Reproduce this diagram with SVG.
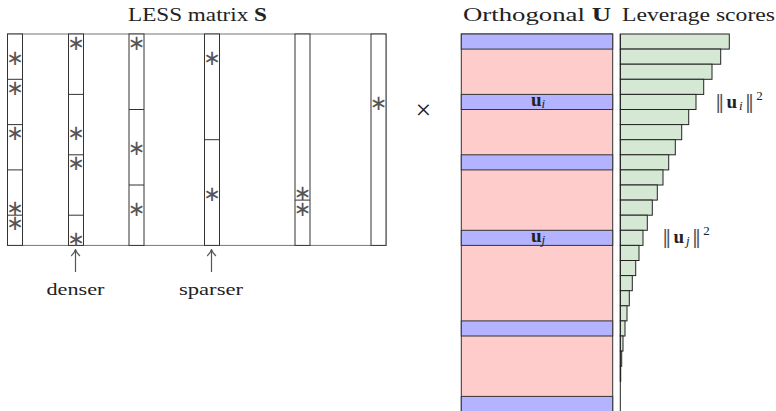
<svg xmlns="http://www.w3.org/2000/svg" width="776" height="411" viewBox="0 0 776 411">
<style>
text{font-family:"Liberation Serif","Times New Roman",serif;fill:#222}
.ttl{font-size:19px}
.ast{font-family:"DejaVu Sans",sans-serif;font-size:21px;text-anchor:middle;fill:#555}
.col{fill:#fff;stroke:#333;stroke-width:1}
.div{stroke:#333;stroke-width:1}
.blue{fill:#b3b3ff;stroke:#333;stroke-width:1}
.pink{fill:#ffcccc;stroke:#333;stroke-width:1}
.bar{fill:#d5e8d4;stroke:#222;stroke-width:1}
.lbl{font-size:19px}
.nrm{font-family:"DejaVu Serif",serif;font-weight:normal}
.arr{stroke:#555;stroke-width:1.2;fill:none}
</style>
<defs>
<marker id="ah" viewBox="0 0 10 10" refX="9" refY="5" markerWidth="10" markerHeight="10" markerUnits="userSpaceOnUse" orient="auto">
<path d="M3,0.5 Q6,4 9.5,5 Q6,6 3,9.5" fill="none" stroke="#555" stroke-width="1.1"/>
</marker>
</defs>
<rect width="776" height="411" fill="#fff"/>

<g id="titles">
<text class="ttl" x="128" y="21" textLength="139" lengthAdjust="spacingAndGlyphs">LESS matrix <tspan font-weight="bold">S</tspan></text>
<text class="ttl" x="463" y="21" textLength="148" lengthAdjust="spacingAndGlyphs">Orthogonal <tspan font-weight="bold">U</tspan></text>
<text class="ttl" x="622" y="21" textLength="153" lengthAdjust="spacingAndGlyphs">Leverage scores</text>
</g>

<g id="matrix-S">
<rect x="7.5" y="34" width="378.5" height="211.4" fill="none" stroke="#777" stroke-width="1"/>
<g id="col1">
<rect class="col" x="7.5" y="34" width="15" height="211.4"/>
<line class="div" x1="7.5" y1="79.3" x2="22.5" y2="79.3"/>
<line class="div" x1="7.5" y1="124.6" x2="22.5" y2="124.6"/>
<line class="div" x1="7.5" y1="169.9" x2="22.5" y2="169.9"/>
<line class="div" x1="7.5" y1="215.2" x2="22.5" y2="215.2"/>
<text class="ast" x="15" y="64.5">∗</text>
<text class="ast" x="15" y="94.5">∗</text>
<text class="ast" x="15" y="139.5">∗</text>
<text class="ast" x="15" y="215">∗</text>
<text class="ast" x="15" y="230">∗</text>
</g>
<g id="col2">
<rect class="col" x="68.5" y="34" width="15" height="211.4"/>
<line class="div" x1="68.5" y1="94.4" x2="83.5" y2="94.4"/>
<line class="div" x1="68.5" y1="154.8" x2="83.5" y2="154.8"/>
<line class="div" x1="68.5" y1="215.2" x2="83.5" y2="215.2"/>
<text class="ast" x="76" y="49.5">∗</text>
<text class="ast" x="76" y="139.5">∗</text>
<text class="ast" x="76" y="170">∗</text>
<text class="ast" x="76" y="245.5">∗</text>
</g>
<g id="col3">
<rect class="col" x="129" y="34" width="15" height="211.4"/>
<line class="div" x1="129" y1="109.5" x2="144" y2="109.5"/>
<line class="div" x1="129" y1="185" x2="144" y2="185"/>
<text class="ast" x="136.5" y="49.5">∗</text>
<text class="ast" x="136.5" y="155">∗</text>
<text class="ast" x="136.5" y="215.5">∗</text>
</g>
<g id="col4">
<rect class="col" x="204.5" y="34" width="15" height="211.4"/>
<line class="div" x1="204.5" y1="139.7" x2="219.5" y2="139.7"/>
<text class="ast" x="212" y="64.5">∗</text>
<text class="ast" x="212" y="200.5">∗</text>
</g>
<g id="col5">
<rect class="col" x="295" y="34" width="15" height="211.4"/>
<line class="div" x1="295" y1="200.1" x2="310" y2="200.1"/>
<text class="ast" x="302.5" y="200">∗</text>
<text class="ast" x="302.5" y="215.5">∗</text>
</g>
<g id="col6">
<rect class="col" x="371" y="34" width="15" height="211.4"/>
<text class="ast" x="378.5" y="109.5">∗</text>
</g>
</g>

<g id="times">
<text x="423.5" y="119" font-size="28" text-anchor="middle" fill="#444">×</text>
</g>

<g id="matrix-U">
<rect class="pink" x="461.3" y="34" width="151.4" height="378"/>
<rect class="blue" x="461.3" y="34" width="151.4" height="15.1"/>
<rect class="blue" x="461.3" y="94.4" width="151.4" height="15.1"/>
<rect class="blue" x="461.3" y="154.8" width="151.4" height="15.1"/>
<rect class="blue" x="461.3" y="230.3" width="151.4" height="15.1"/>
<rect class="blue" x="461.3" y="320.9" width="151.4" height="15.1"/>
<rect class="blue" x="461.3" y="396.4" width="151.4" height="15.1"/>
<text class="lbl" x="538" y="106" text-anchor="middle"><tspan font-weight="bold">u</tspan><tspan font-style="italic" font-size="13" dy="2">i</tspan></text>
<text class="lbl" x="538" y="241.5" text-anchor="middle"><tspan font-weight="bold">u</tspan><tspan font-style="italic" font-size="13" dy="2">j</tspan></text>
</g>

<g id="leverage">
<rect class="bar" x="620.3" y="34" width="109" height="15.1"/>
<rect class="bar" x="620.3" y="49.1" width="100.4" height="15.1"/>
<rect class="bar" x="620.3" y="64.2" width="91.7" height="15.1"/>
<rect class="bar" x="620.3" y="79.3" width="83.4" height="15.1"/>
<rect class="bar" x="620.3" y="94.4" width="75.7" height="15.1"/>
<rect class="bar" x="620.3" y="109.5" width="68.4" height="15.1"/>
<rect class="bar" x="620.3" y="124.6" width="61.4" height="15.1"/>
<rect class="bar" x="620.3" y="139.7" width="55" height="15.1"/>
<rect class="bar" x="620.3" y="154.8" width="48.4" height="15.1"/>
<rect class="bar" x="620.3" y="169.9" width="42.7" height="15.1"/>
<rect class="bar" x="620.3" y="185" width="37" height="15.1"/>
<rect class="bar" x="620.3" y="200.1" width="32" height="15.1"/>
<rect class="bar" x="620.3" y="215.2" width="27" height="15.1"/>
<rect class="bar" x="620.3" y="230.3" width="22.7" height="15.1"/>
<rect class="bar" x="620.3" y="245.4" width="18.7" height="15.1"/>
<rect class="bar" x="620.3" y="260.5" width="15.4" height="15.1"/>
<rect class="bar" x="620.3" y="275.6" width="12" height="15.1"/>
<rect class="bar" x="620.3" y="290.7" width="9" height="15.1"/>
<rect class="bar" x="620.3" y="305.8" width="6.7" height="15.1"/>
<rect class="bar" x="620.3" y="320.9" width="4.7" height="15.1"/>
<rect class="bar" x="620.3" y="336" width="2.7" height="15.1"/>
<rect class="bar" x="620.3" y="351.1" width="1.4" height="15.1"/>
<rect class="bar" x="620.3" y="366.2" width="0.4" height="15.1"/>
<line x1="620.3" y1="34" x2="620.3" y2="411" stroke="#222" stroke-width="1"/>
<text class="lbl" x="715" y="108" letter-spacing="2"><tspan class="nrm" fill="#555">‖</tspan><tspan font-weight="bold">u</tspan><tspan font-style="italic" font-size="13" dy="2">i</tspan><tspan class="nrm" fill="#555" dy="-2">‖</tspan><tspan font-size="13" dy="-8">2</tspan></text>
<text class="lbl" x="662" y="243" letter-spacing="2"><tspan class="nrm" fill="#555">‖</tspan><tspan font-weight="bold">u</tspan><tspan font-style="italic" font-size="13" dy="2">j</tspan><tspan class="nrm" fill="#555" dy="-2">‖</tspan><tspan font-size="13" dy="-8">2</tspan></text>
</g>

<g id="connectors">
<path class="arr" d="M75.5,272 L75.5,250" marker-end="url(#ah)"/>
<path class="arr" d="M211.5,272 L211.5,250" marker-end="url(#ah)"/>
</g>

<g id="notes">
<text x="75.5" y="295" font-size="17" text-anchor="middle" textLength="58" lengthAdjust="spacingAndGlyphs">denser</text>
<text x="211" y="295" font-size="17" text-anchor="middle" textLength="64" lengthAdjust="spacingAndGlyphs">sparser</text>
</g>
</svg>
